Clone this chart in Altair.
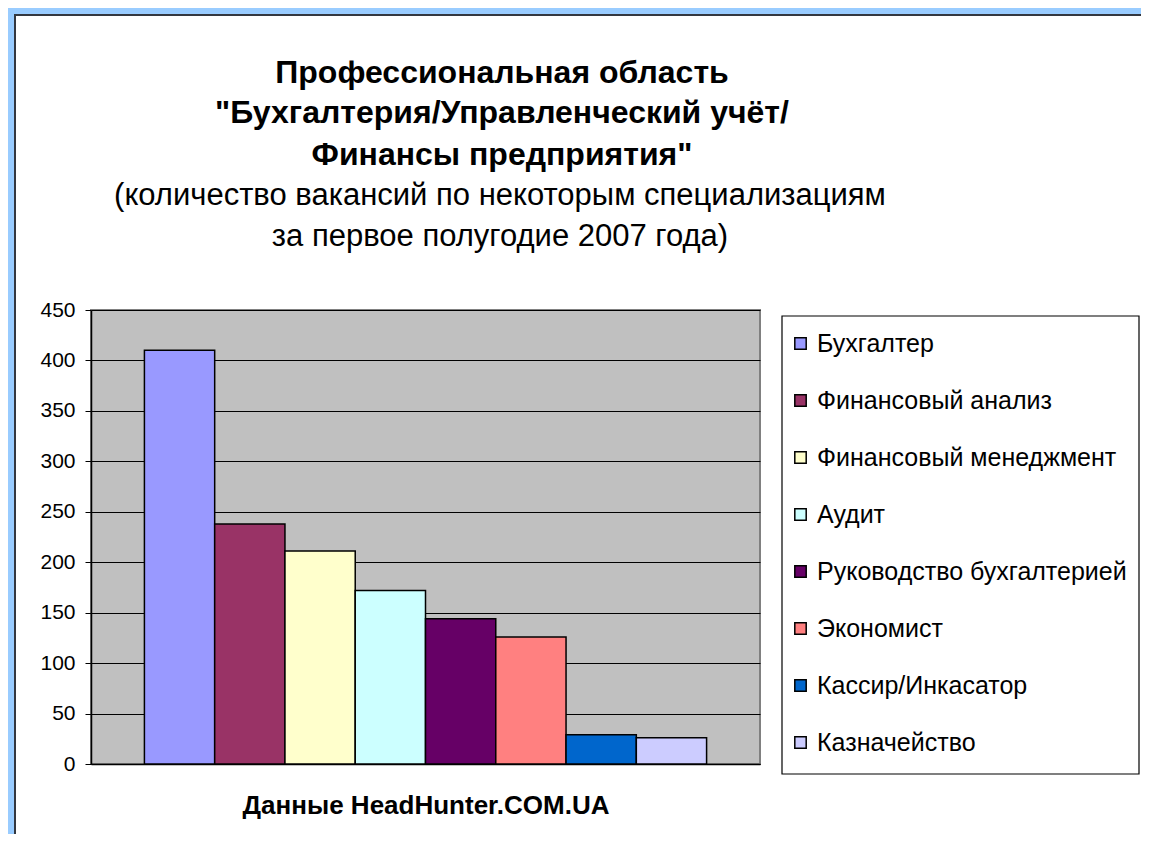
import altair as alt
import pandas as pd

categories = ["Бухгалтер", "Финансовый анализ", "Финансовый менеджмент", "Аудит",
              "Руководство бухгалтерией", "Экономист", "Кассир/Инкасатор", "Казначейство"]
values = [410, 238, 211, 172, 144, 126, 29, 26]
colors = ["#9999FF", "#993366", "#FFFFCC", "#CCFFFF", "#660066", "#FF8080", "#0066CC", "#CCCCFF"]
y_ticks = [0, 50, 100, 150, 200, 250, 300, 350, 400, 450]

title_lines = ["Профессиональная область",
               "\"Бухгалтерия/Управленческий учёт/",
               "Финансы предприятия\""]
subtitle_lines = ["(количество вакансий по некоторым специализациям",
                  "за первое полугодие 2007 года)"]
footer = "Данные HeadHunter.COM.UA"

FONT = "Liberation Sans"
W, H = 669, 454
OX, OY = 91, 310  # plot origin on the page

df = pd.DataFrame({"cat": categories, "val": values})

bars = alt.Chart(df).mark_bar(stroke="black", strokeWidth=1.5).encode(
    x=alt.X("cat:N", sort=categories,
            scale=alt.Scale(domain=categories, paddingInner=0, paddingOuter=0.76),
            axis=alt.Axis(labels=False, ticks=False, title=footer, domain=True,
                          domainColor="black", domainWidth=1.5, grid=False,
                          titleFont=FONT, titleFontSize=26, titleFontWeight="bold",
                          titleColor="black", titlePadding=28)),
    y=alt.Y("val:Q", scale=alt.Scale(domain=[0, 450], nice=False),
            axis=alt.Axis(values=y_ticks, title=None, grid=True, gridColor="black",
                          gridWidth=1, domainColor="black", domainWidth=1.5,
                          tickColor="black", tickSize=6, labelPadding=10,
                          labelFont=FONT, labelFontSize=21, labelColor="black")),
    color=alt.Color("cat:N", sort=categories,
                    scale=alt.Scale(domain=categories, range=colors),
                    legend=alt.Legend(orient="none", legendX=795 - OX - 7, legendY=21,
                                      title=None,
                                      symbolType="square", symbolSize=130,
                                      symbolStrokeColor="black", symbolStrokeWidth=1.5,
                                      symbolOpacity=1,
                                      labelFont=FONT, labelFontSize=25, labelColor="black",
                                      labelOffset=4, labelLimit=400,
                                      rowPadding=31, padding=0)),
)

one = pd.DataFrame({"a": [0]})
layers = []
# decorative chart-area frame and legend box (page coordinates, shifted to plot origin)
frame = [
    (5, 1149, 5, 14, "#99CCFF"),
    (5, 14, 5, 850, "#99CCFF"),
    (14, 1149, 14, 16, "#333840"),
    (14, 16, 14, 850, "#333840"),
]
for x1, x2, y1, y2, c in frame:
    layers.append(alt.Chart(one).mark_rect(color=c).encode(
        x=alt.value(x1 - OX), x2=alt.value(x2 - OX),
        y=alt.value(y1 - OY), y2=alt.value(y2 - OY)))
layers.append(alt.Chart(one).mark_rect(fill="white", stroke="black", strokeWidth=1.2).encode(
    x=alt.value(782 - OX), x2=alt.value(1139 - OX),
    y=alt.value(316 - OY), y2=alt.value(774 - OY)))

title_y = [73, 113, 155]
for t, yy in zip(title_lines, title_y):
    layers.append(alt.Chart(pd.DataFrame({"t": [t]})).mark_text(
        font=FONT, fontSize=32, fontWeight="bold", color="black",
        align="center", baseline="middle").encode(
        text="t:N", x=alt.value(502 - OX), y=alt.value(yy - OY)))
sub_y = [196, 237]
for t, yy in zip(subtitle_lines, sub_y):
    layers.append(alt.Chart(pd.DataFrame({"t": [t]})).mark_text(
        font=FONT, fontSize=31, color="black",
        align="center", baseline="middle").encode(
        text="t:N", x=alt.value(500 - OX), y=alt.value(yy - OY)))

chart = alt.layer(*layers, bars).properties(
    width=W, height=H,
    autosize=alt.AutoSizeParams(type="none"),
    padding={"left": OX - 8, "top": OY - 8, "right": 1133 - (OX - 8) - W, "bottom": 70},
    background="white",
).configure_view(fill="#C0C0C0", stroke="#808080", strokeWidth=2)

chart.save("out.html", embed_options={"renderer": "svg", "actions": False})
